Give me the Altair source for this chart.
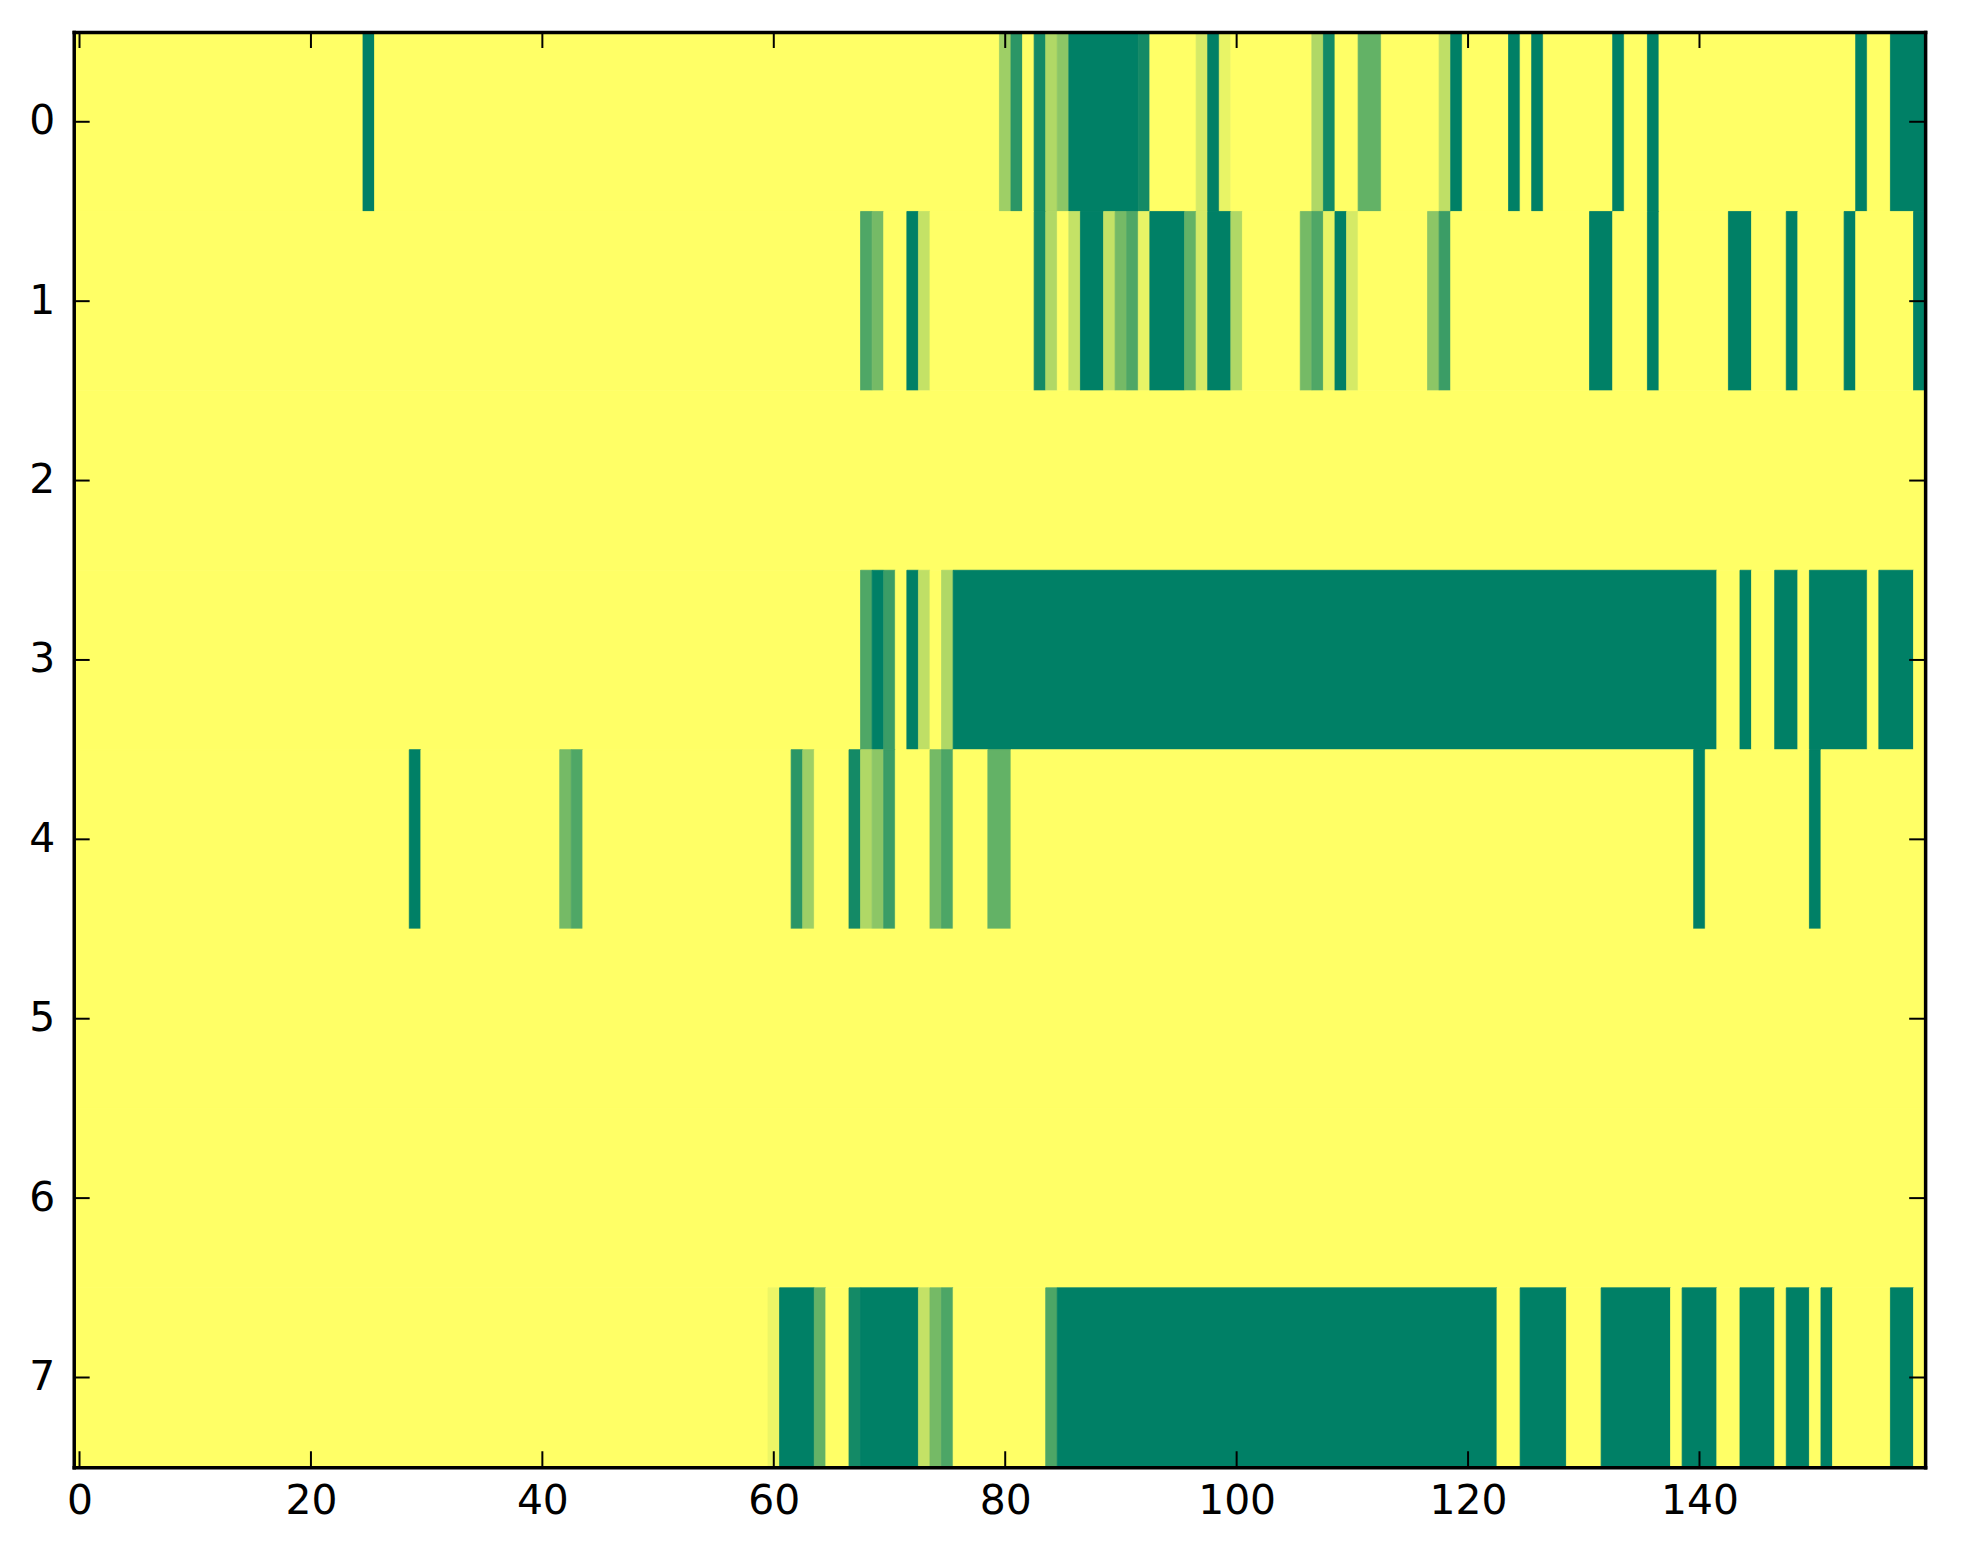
import altair as alt
import pandas as pd

N_COLS = 160
N_ROWS = 8
x_ticks = [0, 20, 40, 60, 80, 100, 120, 140]
y_ticks = [0, 1, 2, 3, 4, 5, 6, 7]

# runs: (first column, last column, value); unlisted cells are 0
row0_runs = [(25, 25, 1.0), (80, 80, 0.38), (81, 81, 0.83), (83, 83, 0.92), (84, 84, 0.31),
             (85, 85, 0.45), (86, 91, 1.0), (92, 92, 0.92), (97, 97, 0.165), (98, 98, 1.0),
             (99, 99, 0.09), (107, 107, 0.31), (108, 108, 0.92), (111, 112, 0.61),
             (118, 118, 0.25), (119, 119, 1.0), (124, 124, 1.0), (126, 126, 1.0),
             (133, 133, 1.0), (136, 136, 1.0), (154, 154, 1.0), (157, 159, 1.0)]
row1_runs = [(68, 68, 0.69), (69, 69, 0.54), (72, 72, 1.0), (73, 73, 0.23), (83, 83, 0.92),
             (84, 84, 0.31), (86, 86, 0.23), (87, 88, 1.0), (89, 89, 0.23), (90, 90, 0.54),
             (91, 91, 0.69), (92, 92, 0.09), (93, 95, 1.0), (96, 96, 0.61), (97, 97, 0.165),
             (98, 99, 1.0), (100, 100, 0.31), (106, 106, 0.54), (107, 107, 0.69),
             (108, 108, 0.09), (109, 109, 1.0), (110, 110, 0.165), (117, 117, 0.45),
             (118, 118, 0.77), (131, 132, 1.0), (136, 136, 1.0), (143, 144, 1.0),
             (148, 148, 1.0), (153, 153, 1.0), (159, 159, 1.0)]
row2_runs = []
row3_runs = [(68, 68, 0.69), (69, 69, 1.0), (70, 70, 0.77), (72, 72, 1.0), (73, 73, 0.25),
             (75, 75, 0.31), (76, 141, 1.0), (144, 144, 1.0), (147, 148, 1.0),
             (150, 154, 1.0), (156, 158, 1.0)]
row4_runs = [(29, 29, 1.0), (42, 42, 0.54), (43, 43, 0.69), (62, 62, 0.83), (63, 63, 0.38),
             (67, 67, 0.92), (68, 68, 0.31), (69, 69, 0.45), (70, 70, 0.77), (74, 74, 0.54),
             (75, 75, 0.7), (79, 80, 0.61), (140, 140, 1.0), (150, 150, 1.0)]
row5_runs = []
row6_runs = []
row7_runs = [(60, 60, 0.07), (61, 63, 1.0), (64, 64, 0.61), (67, 67, 0.92), (68, 72, 1.0),
             (73, 73, 0.23), (74, 74, 0.54), (75, 75, 0.7), (84, 84, 0.7), (85, 122, 1.0),
             (125, 128, 1.0), (132, 137, 1.0), (139, 141, 1.0), (144, 146, 1.0),
             (148, 149, 1.0), (151, 151, 1.0), (157, 158, 1.0)]

all_runs = [row0_runs, row1_runs, row2_runs, row3_runs, row4_runs, row5_runs, row6_runs, row7_runs]

# expand to the full cell grid, then merge equal neighbours into one rectangle each
records = []
for r, runs in enumerate(all_runs):
    vals = [0.0] * N_COLS
    for s, e, v in runs:
        for c in range(s, e + 1):
            vals[c] = v
    start = 0
    for c in range(1, N_COLS + 1):
        if c == N_COLS or vals[c] != vals[start]:
            records.append({"x0": start - 0.5, "x1": c - 0.5,
                            "y0": r - 0.5, "y1": r + 0.5, "v": vals[start]})
            start = c
df = pd.DataFrame(records)

W, H, T = 1859, 1441, 16
FONT = "DejaVu Sans"
FS = 41

xscale = alt.Scale(domain=[-0.5, N_COLS - 0.5], nice=False, zero=False)
yscale = alt.Scale(domain=[-0.5, N_ROWS - 0.5], nice=False, zero=False, reverse=True)
cscale = alt.Scale(domain=[0, 1], range=["#ffff66", "#008066"], interpolate="rgb")

common_axis = dict(grid=False, ticks=False, tickSize=0, domain=True, domainColor="black",
                   domainWidth=3.5, domainCap="square", zindex=1, title=None)

heat = alt.Chart(df).mark_rect(strokeWidth=0.8).encode(
    x=alt.X("x0:Q", scale=xscale,
            axis=alt.Axis(orient="bottom", values=x_ticks, format="d", labelFont=FONT,
                          labelFontSize=FS, labelColor="black", labelPadding=15,
                          labelFlush=False, labelOverlap=False, **common_axis)),
    x2="x1:Q",
    y=alt.Y("y0:Q", scale=yscale,
            axis=alt.Axis(orient="left", values=y_ticks, format="d", labelFont=FONT,
                          labelFontSize=FS, labelColor="black", labelPadding=19,
                          labelFlush=False, labelOverlap=False, **common_axis)),
    y2="y1:Q",
    color=alt.Color("v:Q", scale=cscale, legend=None),
    stroke=alt.Stroke("v:Q", scale=cscale, legend=None),
)

xt = pd.DataFrame({"t": x_ticks})
yt = pd.DataFrame({"t": y_ticks})

top_ticks = alt.Chart(xt).mark_rule(color="black", strokeWidth=2).encode(
    x=alt.X("t:Q", scale=xscale,
            axis=alt.Axis(orient="top", labels=False, **common_axis)),
    y=alt.value(0), y2=alt.value(T),
)
bottom_ticks = alt.Chart(xt).mark_rule(color="black", strokeWidth=2).encode(
    x=alt.X("t:Q", scale=xscale, axis=None),
    y=alt.value(H - T), y2=alt.value(H),
)
left_ticks = alt.Chart(yt).mark_rule(color="black", strokeWidth=2).encode(
    y=alt.Y("t:Q", scale=yscale, axis=None),
    x=alt.value(0), x2=alt.value(T),
)
right_ticks = alt.Chart(yt).mark_rule(color="black", strokeWidth=2).encode(
    y=alt.Y("t:Q", scale=yscale,
            axis=alt.Axis(orient="right", labels=False, **common_axis)),
    x=alt.value(W - T), x2=alt.value(W),
)

chart = alt.layer(heat, top_ticks, bottom_ticks, left_ticks, right_ticks).resolve_axis(
    x="independent", y="independent"
).properties(
    width=W, height=H,
    autosize=alt.AutoSizeParams(type="none"),
    padding={"left": 66, "top": 21, "right": 30, "bottom": 90},
    background="white",
).configure_view(stroke=None)

chart.save("out.html", embed_options={"renderer": "svg", "actions": False})
